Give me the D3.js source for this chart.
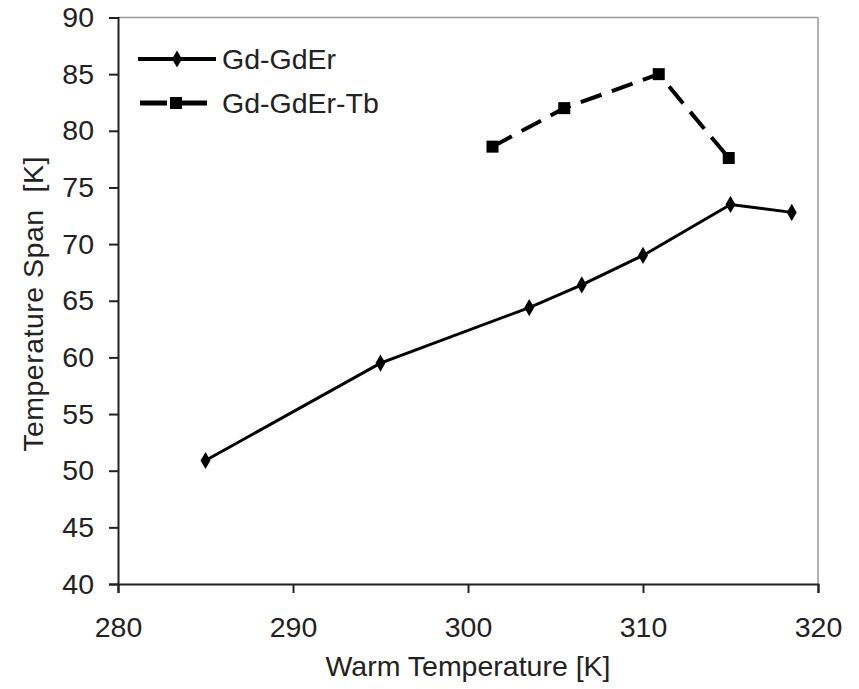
<!DOCTYPE html>
<html><head><meta charset="utf-8">
<script src="https://cdn.jsdelivr.net/npm/d3@7"></script>
<style>body{margin:0;background:#fff}text{font-family:"Liberation Sans",Arial,sans-serif;fill:#222}</style>
</head><body><svg id="c" width="859" height="689"></svg>
<script>
const seriesNames = ["Gd-GdEr", "Gd-GdEr-Tb"];
const gdErX = [285, 295, 303.5, 306.5, 310, 315, 318.5];
const gdErY = [50.9, 59.5, 64.4, 66.4, 69.0, 73.5, 72.8];
const gdErTbX = [301.4, 305.5, 310.9, 314.9];
const gdErTbY = [78.6, 82.0, 85.0, 77.6];
const xTicks = [280, 290, 300, 310, 320];
const yTicks = [40, 45, 50, 55, 60, 65, 70, 75, 80, 85, 90];

const svg = d3.select("#c");
const L = 118, R = 818, T = 17.5, B = 584;
const x = d3.scaleLinear().domain([280, 320]).range([L, R]);
const y = d3.scaleLinear().domain([40, 90]).range([B, T]);
const FS = 28.5;

svg.append("line").attr("x1", L).attr("x2", R).attr("y1", T).attr("y2", T).attr("stroke", "#999").attr("stroke-width", 1.5);
svg.append("line").attr("x1", R).attr("x2", R).attr("y1", T).attr("y2", B).attr("stroke", "#999").attr("stroke-width", 1.5);

const xa = svg.append("g").attr("transform", `translate(0,${B})`)
  .call(d3.axisBottom(x).tickValues(xTicks).tickSize(9).tickPadding(24).tickFormat(d3.format("d")));
const ya = svg.append("g").attr("transform", `translate(${L},0)`)
  .call(d3.axisLeft(y).tickValues(yTicks).tickSize(9).tickPadding(15).tickFormat(d3.format("d")));
[xa, ya].forEach(g => {
  g.select(".domain").attr("stroke", "#222").attr("stroke-width", 2);
  g.selectAll(".tick line").attr("stroke", "#222").attr("stroke-width", 2);
  g.selectAll(".tick text").attr("font-size", FS).attr("font-family", "Liberation Sans, Arial, sans-serif").attr("fill", "#222");
});

svg.append("text").attr("x", (L + R) / 2).attr("y", 676).attr("text-anchor", "middle")
  .attr("font-size", FS).text("Warm Temperature [K]");
svg.append("text").attr("transform", "translate(43,304) rotate(-90)").attr("text-anchor", "middle")
  .attr("font-size", FS).attr("letter-spacing", 0.5).attr("xml:space", "preserve").text("Temperature Span  [K]");

const line = d3.line().x(d => x(d[0])).y(d => y(d[1]));
const s1 = gdErX.map((v, i) => [v, gdErY[i]]);
const s2 = gdErTbX.map((v, i) => [v, gdErTbY[i]]);

svg.append("path").datum(s1).attr("d", line).attr("fill", "none").attr("stroke", "#000").attr("stroke-width", 3);
svg.append("path").datum(s2).attr("d", line).attr("fill", "none").attr("stroke", "#000").attr("stroke-width", 4)
  .attr("stroke-dasharray", "22,11");

const diamond = d3.symbol().type(d3.symbolDiamond).size(85);
svg.selectAll(".m1").data(s1).join("path").attr("d", diamond)
  .attr("transform", d => `translate(${x(d[0])},${y(d[1])})`).attr("fill", "#000");
svg.selectAll(".m2").data(s2).join("rect")
  .attr("x", d => x(d[0]) - 6).attr("y", d => y(d[1]) - 6).attr("width", 12).attr("height", 12).attr("fill", "#000");

const lg = svg.append("g");
lg.append("line").attr("x1", 138).attr("x2", 216).attr("y1", 59).attr("y2", 59).attr("stroke", "#000").attr("stroke-width", 4);
lg.append("path").attr("d", diamond).attr("transform", "translate(177,59)").attr("fill", "#000");
lg.append("text").attr("x", 222).attr("y", 69).attr("font-size", FS).text(seriesNames[0]);
lg.append("line").attr("x1", 140).attr("x2", 207).attr("y1", 103).attr("y2", 103).attr("stroke", "#000").attr("stroke-width", 5)
  .attr("stroke-dasharray", "27,4,40");
lg.append("rect").attr("x", 170).attr("y", 97).attr("width", 12).attr("height", 12).attr("fill", "#000");
lg.append("text").attr("x", 222).attr("y", 113).attr("font-size", FS).text(seriesNames[1]);
</script></body></html>
